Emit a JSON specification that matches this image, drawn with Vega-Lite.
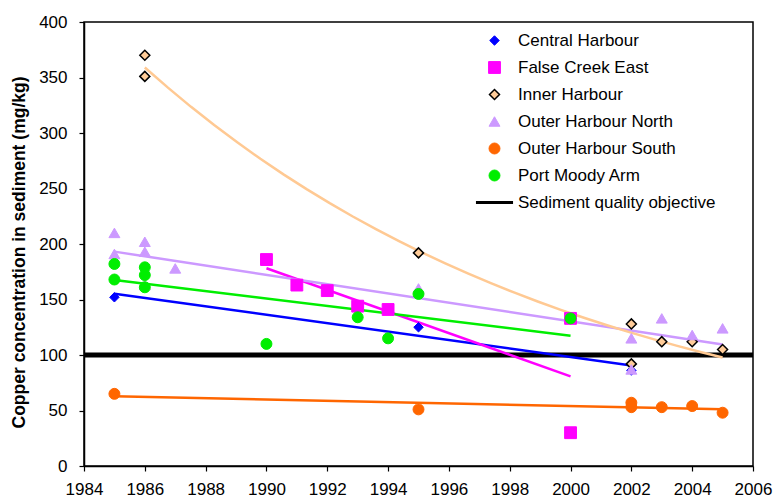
{
  "$schema": "https://vega.github.io/schema/vega-lite/v6.json",
  "width": 669,
  "height": 444,
  "autosize": {"type": "none"},
  "padding": {"left": 84, "top": 22, "right": 22, "bottom": 37},
  "background": "white",
  "config": {
    "font": "Liberation Sans",
    "view": {"stroke": "black", "strokeWidth": 1.5},
    "axis": {"grid": false, "domainColor": "black", "domainWidth": 1.5, "tickColor": "black", "tickWidth": 1.2, "tickSize": 5, "labelFont": "Liberation Sans", "labelFontSize": 17, "labelColor": "black"}
  },
  "datasets": {
    "pts": [
      {"series": "Central Harbour", "year": 1985, "value": 152},
      {"series": "Central Harbour", "year": 1995, "value": 125},
      {"series": "Central Harbour", "year": 2002, "value": 86},
      {"series": "False Creek East", "year": 1990, "value": 186},
      {"series": "False Creek East", "year": 1991, "value": 163},
      {"series": "False Creek East", "year": 1992, "value": 158},
      {"series": "False Creek East", "year": 1993, "value": 144},
      {"series": "False Creek East", "year": 1994, "value": 141},
      {"series": "False Creek East", "year": 2000, "value": 133},
      {"series": "False Creek East", "year": 2000, "value": 30},
      {"series": "Inner Harbour", "year": 1986, "value": 370},
      {"series": "Inner Harbour", "year": 1986, "value": 351},
      {"series": "Inner Harbour", "year": 1995, "value": 192},
      {"series": "Inner Harbour", "year": 2002, "value": 128},
      {"series": "Inner Harbour", "year": 2002, "value": 92},
      {"series": "Inner Harbour", "year": 2003, "value": 112},
      {"series": "Inner Harbour", "year": 2004, "value": 112},
      {"series": "Inner Harbour", "year": 2005, "value": 105},
      {"series": "Outer Harbour North", "year": 1985, "value": 210},
      {"series": "Outer Harbour North", "year": 1985, "value": 191},
      {"series": "Outer Harbour North", "year": 1986, "value": 202},
      {"series": "Outer Harbour North", "year": 1986, "value": 193},
      {"series": "Outer Harbour North", "year": 1986, "value": 163},
      {"series": "Outer Harbour North", "year": 1987, "value": 178},
      {"series": "Outer Harbour North", "year": 1995, "value": 160},
      {"series": "Outer Harbour North", "year": 2002, "value": 115},
      {"series": "Outer Harbour North", "year": 2002, "value": 87},
      {"series": "Outer Harbour North", "year": 2003, "value": 133},
      {"series": "Outer Harbour North", "year": 2004, "value": 118},
      {"series": "Outer Harbour North", "year": 2005, "value": 124},
      {"series": "Outer Harbour South", "year": 1985, "value": 65},
      {"series": "Outer Harbour South", "year": 1995, "value": 51},
      {"series": "Outer Harbour South", "year": 2002, "value": 57},
      {"series": "Outer Harbour South", "year": 2002, "value": 53},
      {"series": "Outer Harbour South", "year": 2003, "value": 53},
      {"series": "Outer Harbour South", "year": 2004, "value": 54},
      {"series": "Outer Harbour South", "year": 2005, "value": 48},
      {"series": "Port Moody Arm", "year": 1985, "value": 182},
      {"series": "Port Moody Arm", "year": 1985, "value": 168},
      {"series": "Port Moody Arm", "year": 1986, "value": 179},
      {"series": "Port Moody Arm", "year": 1986, "value": 172},
      {"series": "Port Moody Arm", "year": 1986, "value": 161},
      {"series": "Port Moody Arm", "year": 1990, "value": 110},
      {"series": "Port Moody Arm", "year": 1993, "value": 134},
      {"series": "Port Moody Arm", "year": 1994, "value": 115},
      {"series": "Port Moody Arm", "year": 1995, "value": 155},
      {"series": "Port Moody Arm", "year": 2000, "value": 133}
    ],
    "objective": [{"value": 100}]
  },
  "layer": [
    {
      "data": {"name": "objective"},
      "mark": {"type": "rule", "color": "black", "strokeWidth": 5},
      "encoding": {"y": {"field": "value", "type": "quantitative"}}
    },
    {
      "data": {"name": "pts"},
      "transform": [
        {"filter": "datum.series !== 'Inner Harbour'"},
        {"regression": "value", "on": "year", "groupby": ["series"], "method": "linear"}
      ],
      "mark": {"type": "line", "strokeWidth": 2.5},
      "encoding": {
        "x": {"field": "year", "type": "quantitative"},
        "y": {"field": "value", "type": "quantitative"},
        "color": {"field": "series", "type": "nominal", "legend": null,
          "scale": {"domain": ["Central Harbour", "False Creek East", "Inner Harbour", "Outer Harbour North", "Outer Harbour South", "Port Moody Arm"],
                    "range": ["#0000FF", "#FF00FF", "#FFC993", "#CC99FF", "#FF6600", "#00EE00"]}}
      }
    },
    {
      "data": {"name": "pts"},
      "transform": [
        {"filter": "datum.series === 'Inner Harbour'"},
        {"regression": "value", "on": "year", "groupby": ["series"], "method": "exp"}
      ],
      "mark": {"type": "line", "strokeWidth": 2.5},
      "encoding": {
        "x": {"field": "year", "type": "quantitative"},
        "y": {"field": "value", "type": "quantitative"},
        "color": {"field": "series", "type": "nominal", "legend": null}
      }
    },
    {
      "data": {"name": "pts"},
      "mark": {"type": "point", "filled": true, "opacity": 1},
      "encoding": {
        "x": {"field": "year", "type": "quantitative", "title": null,
          "scale": {"domain": [1984, 2006], "nice": false},
          "axis": {"values": [1984, 1986, 1988, 1990, 1992, 1994, 1996, 1998, 2000, 2002, 2004, 2006], "format": "d", "labelPadding": 10, "labelFlush": false}},
        "y": {"field": "value", "type": "quantitative",
          "title": "Copper concentration in sediment (mg/kg)",
          "scale": {"domain": [0, 400], "nice": false},
          "axis": {"values": [0, 50, 100, 150, 200, 250, 300, 350, 400], "labelPadding": 12, "titleFont": "Liberation Sans", "titleFontSize": 17.5, "titleFontWeight": "bold", "titleColor": "black", "titlePadding": 10, "titleY": 230}},
        "fill": {"field": "series", "type": "nominal",
          "scale": {"domain": ["Central Harbour", "False Creek East", "Inner Harbour", "Outer Harbour North", "Outer Harbour South", "Port Moody Arm", "Sediment quality objective"],
                    "range": ["#0000FF", "#FF00FF", "#FFCC99", "#CC99FF", "#FF6600", "#00EE00", "#000000"]},
          "legend": {"title": null, "orient": "none", "legendX": 402, "legendY": 10, "labelFontSize": 17, "labelFont": "Liberation Sans", "labelColor": "black", "labelOffset": 15, "labelLimit": 400, "rowPadding": 9, "symbolOpacity": 1}},
        "stroke": {"field": "series", "type": "nominal",
          "scale": {"domain": ["Central Harbour", "False Creek East", "Inner Harbour", "Outer Harbour North", "Outer Harbour South", "Port Moody Arm", "Sediment quality objective"],
                    "range": ["#0000FF", "#FF00FF", "#000000", "#CC99FF", "#FF6600", "#00EE00", "#000000"]}},
        "shape": {"field": "series", "type": "nominal",
          "scale": {"domain": ["Central Harbour", "False Creek East", "Inner Harbour", "Outer Harbour North", "Outer Harbour South", "Port Moody Arm", "Sediment quality objective"],
                    "range": ["diamond", "square", "diamond", "triangle-up", "circle", "circle", "M-5,0H5"]}},
        "size": {"field": "series", "type": "nominal",
          "scale": {"type": "ordinal", "domain": ["Central Harbour", "False Creek East", "Inner Harbour", "Outer Harbour North", "Outer Harbour South", "Port Moody Arm", "Sediment quality objective"],
                    "range": [90, 140, 100, 120, 120, 120, 55]}},
        "strokeWidth": {"field": "series", "type": "nominal",
          "scale": {"type": "ordinal", "domain": ["Central Harbour", "False Creek East", "Inner Harbour", "Outer Harbour North", "Outer Harbour South", "Port Moody Arm", "Sediment quality objective"],
                    "range": [1, 1, 1.5, 1, 1, 1, 3]}}
      }
    }
  ]
}
